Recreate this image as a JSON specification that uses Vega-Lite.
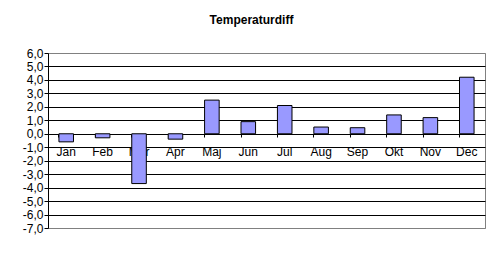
{
  "$schema": "https://vega.github.io/schema/vega-lite/v6.json",
  "autosize": "none",
  "width": 437,
  "height": 175,
  "padding": {"left": 48, "top": 53, "right": 15, "bottom": 26},
  "background": "white",
  "title": {
    "text": "Temperaturdiff",
    "font": "Liberation Sans",
    "fontSize": 12,
    "fontWeight": "bold",
    "color": "black",
    "anchor": "middle",
    "frame": "group",
    "dx": -15,
    "baseline": "alphabetic",
    "offset": 11
  },
  "data": {
    "values": [
      {"month": "Jan", "diff": -0.6},
      {"month": "Feb", "diff": -0.3},
      {"month": "Mar", "diff": -3.7},
      {"month": "Apr", "diff": -0.4},
      {"month": "Maj", "diff": 2.5},
      {"month": "Jun", "diff": 0.9},
      {"month": "Jul", "diff": 2.1},
      {"month": "Aug", "diff": 0.5},
      {"month": "Sep", "diff": 0.45},
      {"month": "Okt", "diff": 1.4},
      {"month": "Nov", "diff": 1.2},
      {"month": "Dec", "diff": 4.2}
    ]
  },
  "mark": {"type": "bar", "fill": "#9999FF", "stroke": "black", "strokeWidth": 1},
  "encoding": {
    "x": {
      "field": "month",
      "type": "nominal",
      "sort": null,
      "scale": {"paddingInner": 0.6, "paddingOuter": 0.3},
      "axis": {
        "title": null,
        "offset": -94,
        "domain": false,
        "bandPosition": 0,
        "ticks": true,
        "tickSize": 3,
        "tickColor": "black",
        "labelAngle": 0,
        "labelFont": "Liberation Sans",
        "labelFontSize": 12,
        "labelColor": "black",
        "labelPadding": 9,
        "grid": false,
        "zindex": 0
      }
    },
    "y": {
      "field": "diff",
      "type": "quantitative",
      "scale": {"domain": [-7, 6], "nice": false},
      "axis": {
        "title": null,
        "values": [-7, -6, -5, -4, -3, -2, -1, 0, 1, 2, 3, 4, 5, 6],
        "labelExpr": "replace(replace(format(datum.value, '.1f'), '.', ','), '\u2212', '-')",
        "labelFont": "Liberation Sans",
        "labelFontSize": 12,
        "labelColor": "black",
        "labelPadding": 1,
        "tickSize": 4,
        "tickColor": "black",
        "domainColor": "black",
        "grid": true,
        "gridColor": {"condition": {"test": "datum.value == 6 || datum.value == -7", "value": "#808080"}, "value": "black"},
        "gridOpacity": 1,
        "zindex": 0
      }
    }
  },
  "config": {
    "view": {"stroke": "#808080", "strokeWidth": 1}
  }
}
